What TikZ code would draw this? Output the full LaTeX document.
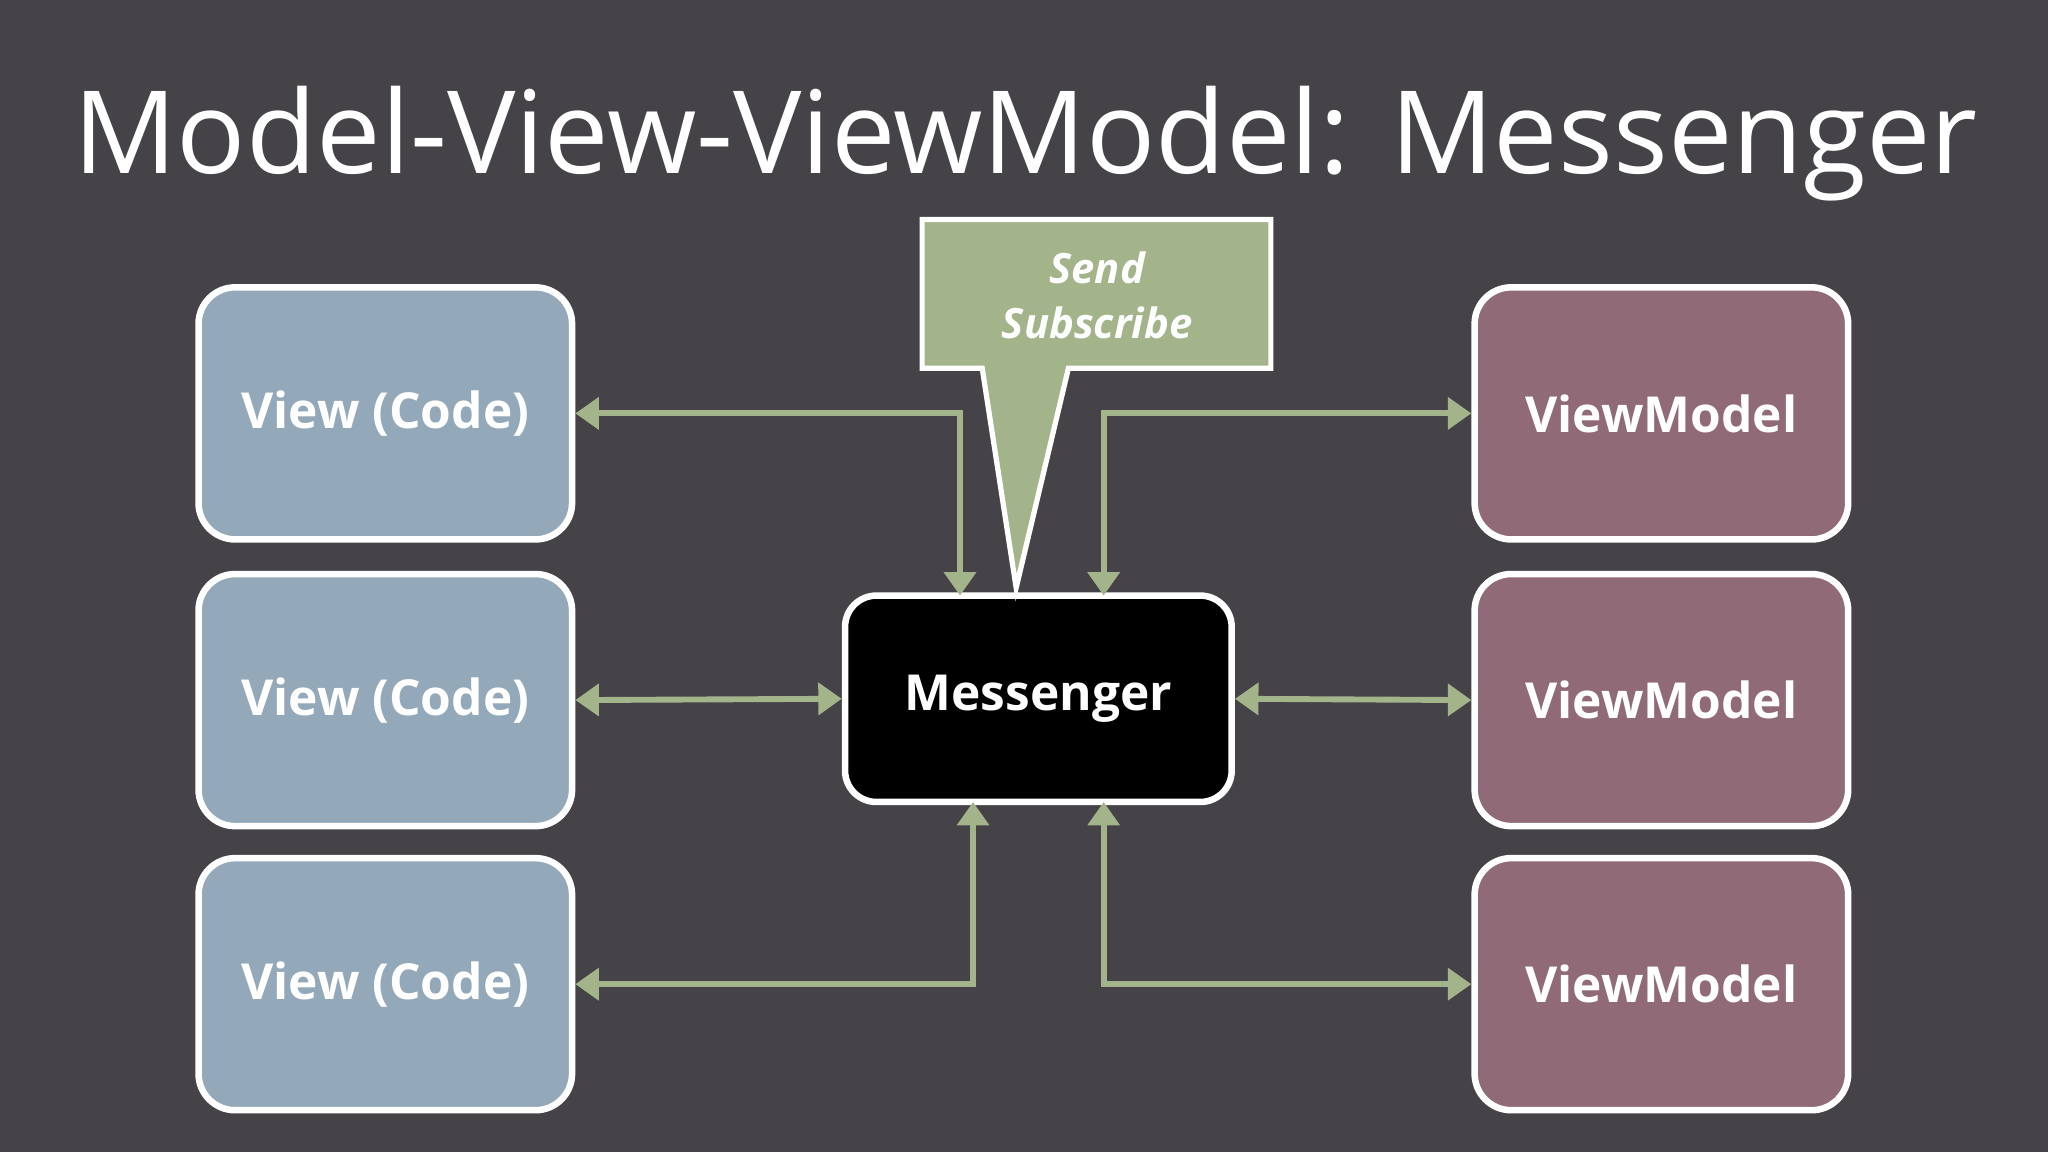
\documentclass[tikz,border=0pt]{standalone}
\usepackage{fontspec}
\setmainfont{Open Sans}
\usetikzlibrary{arrows.meta,shadows}
\definecolor{bg}{HTML}{454347}
\definecolor{vblue}{HTML}{93A9B9}
\definecolor{vmred}{HTML}{916A78}
\definecolor{sgreen}{HTML}{A3B48A}
\begin{document}
\begin{tikzpicture}[x=1pt,y=-1pt,
  box/.style={draw=white,line width=5pt,rounded corners=28pt,minimum width=286pt,minimum height=193pt,font=\fontsize{38}{44}\selectfont\bfseries,text=white,inner sep=0pt},
  conn/.style={draw=sgreen,line width=4.5pt,{Triangle[length=18pt,width=24pt]}-{Triangle[length=18pt,width=24pt]}}]
\fill[bg] (0,0) rectangle (1568,882);
\useasboundingbox (0,0) rectangle (1568,882);
\node[text=white,font=\fontsize{88}{100}\selectfont] (title) at (785,110) {Model-View-ViewModel: Messenger};
\foreach \n/\y in {1/316.5,2/536,3/753.5}{
  \node[box,fill=vblue] (v\n) at (295,\y) {View (Code)};
  \node[box,fill=vmred] (vm\n) at (1272,\y) {ViewModel};
}
\node[box,fill=black,minimum width=296pt,minimum height=158pt,rounded corners=24pt] (m) at (795,535) {Messenger};
\coordinate (mtl) at (735,456);
\coordinate (mtr) at (845,456);
\coordinate (mbl) at (745,614);
\coordinate (mbr) at (845,614);
\draw[conn] (v1.east) -| (mtl);
\draw[conn] (vm1.west) -| (mtr);
\draw[conn] (v2.east) -- (m.west);
\draw[conn] (m.east) -- (vm2.west);
\draw[conn] (v3.east) -| (mbl);
\draw[conn] (vm3.west) -| (mbr);
\draw[draw=white,line width=4pt,fill=sgreen,line join=miter]
  (706,168) -- (973,168) -- (973,282) -- (818,282) -- (778,450) -- (752,282) -- (706,282) -- cycle;
\node[text=white,font=\fontsize{32}{42}\selectfont\bfseries\itshape,align=center] (call) at (840,226) {Send\\Subscribe};
\end{tikzpicture}
\end{document}
